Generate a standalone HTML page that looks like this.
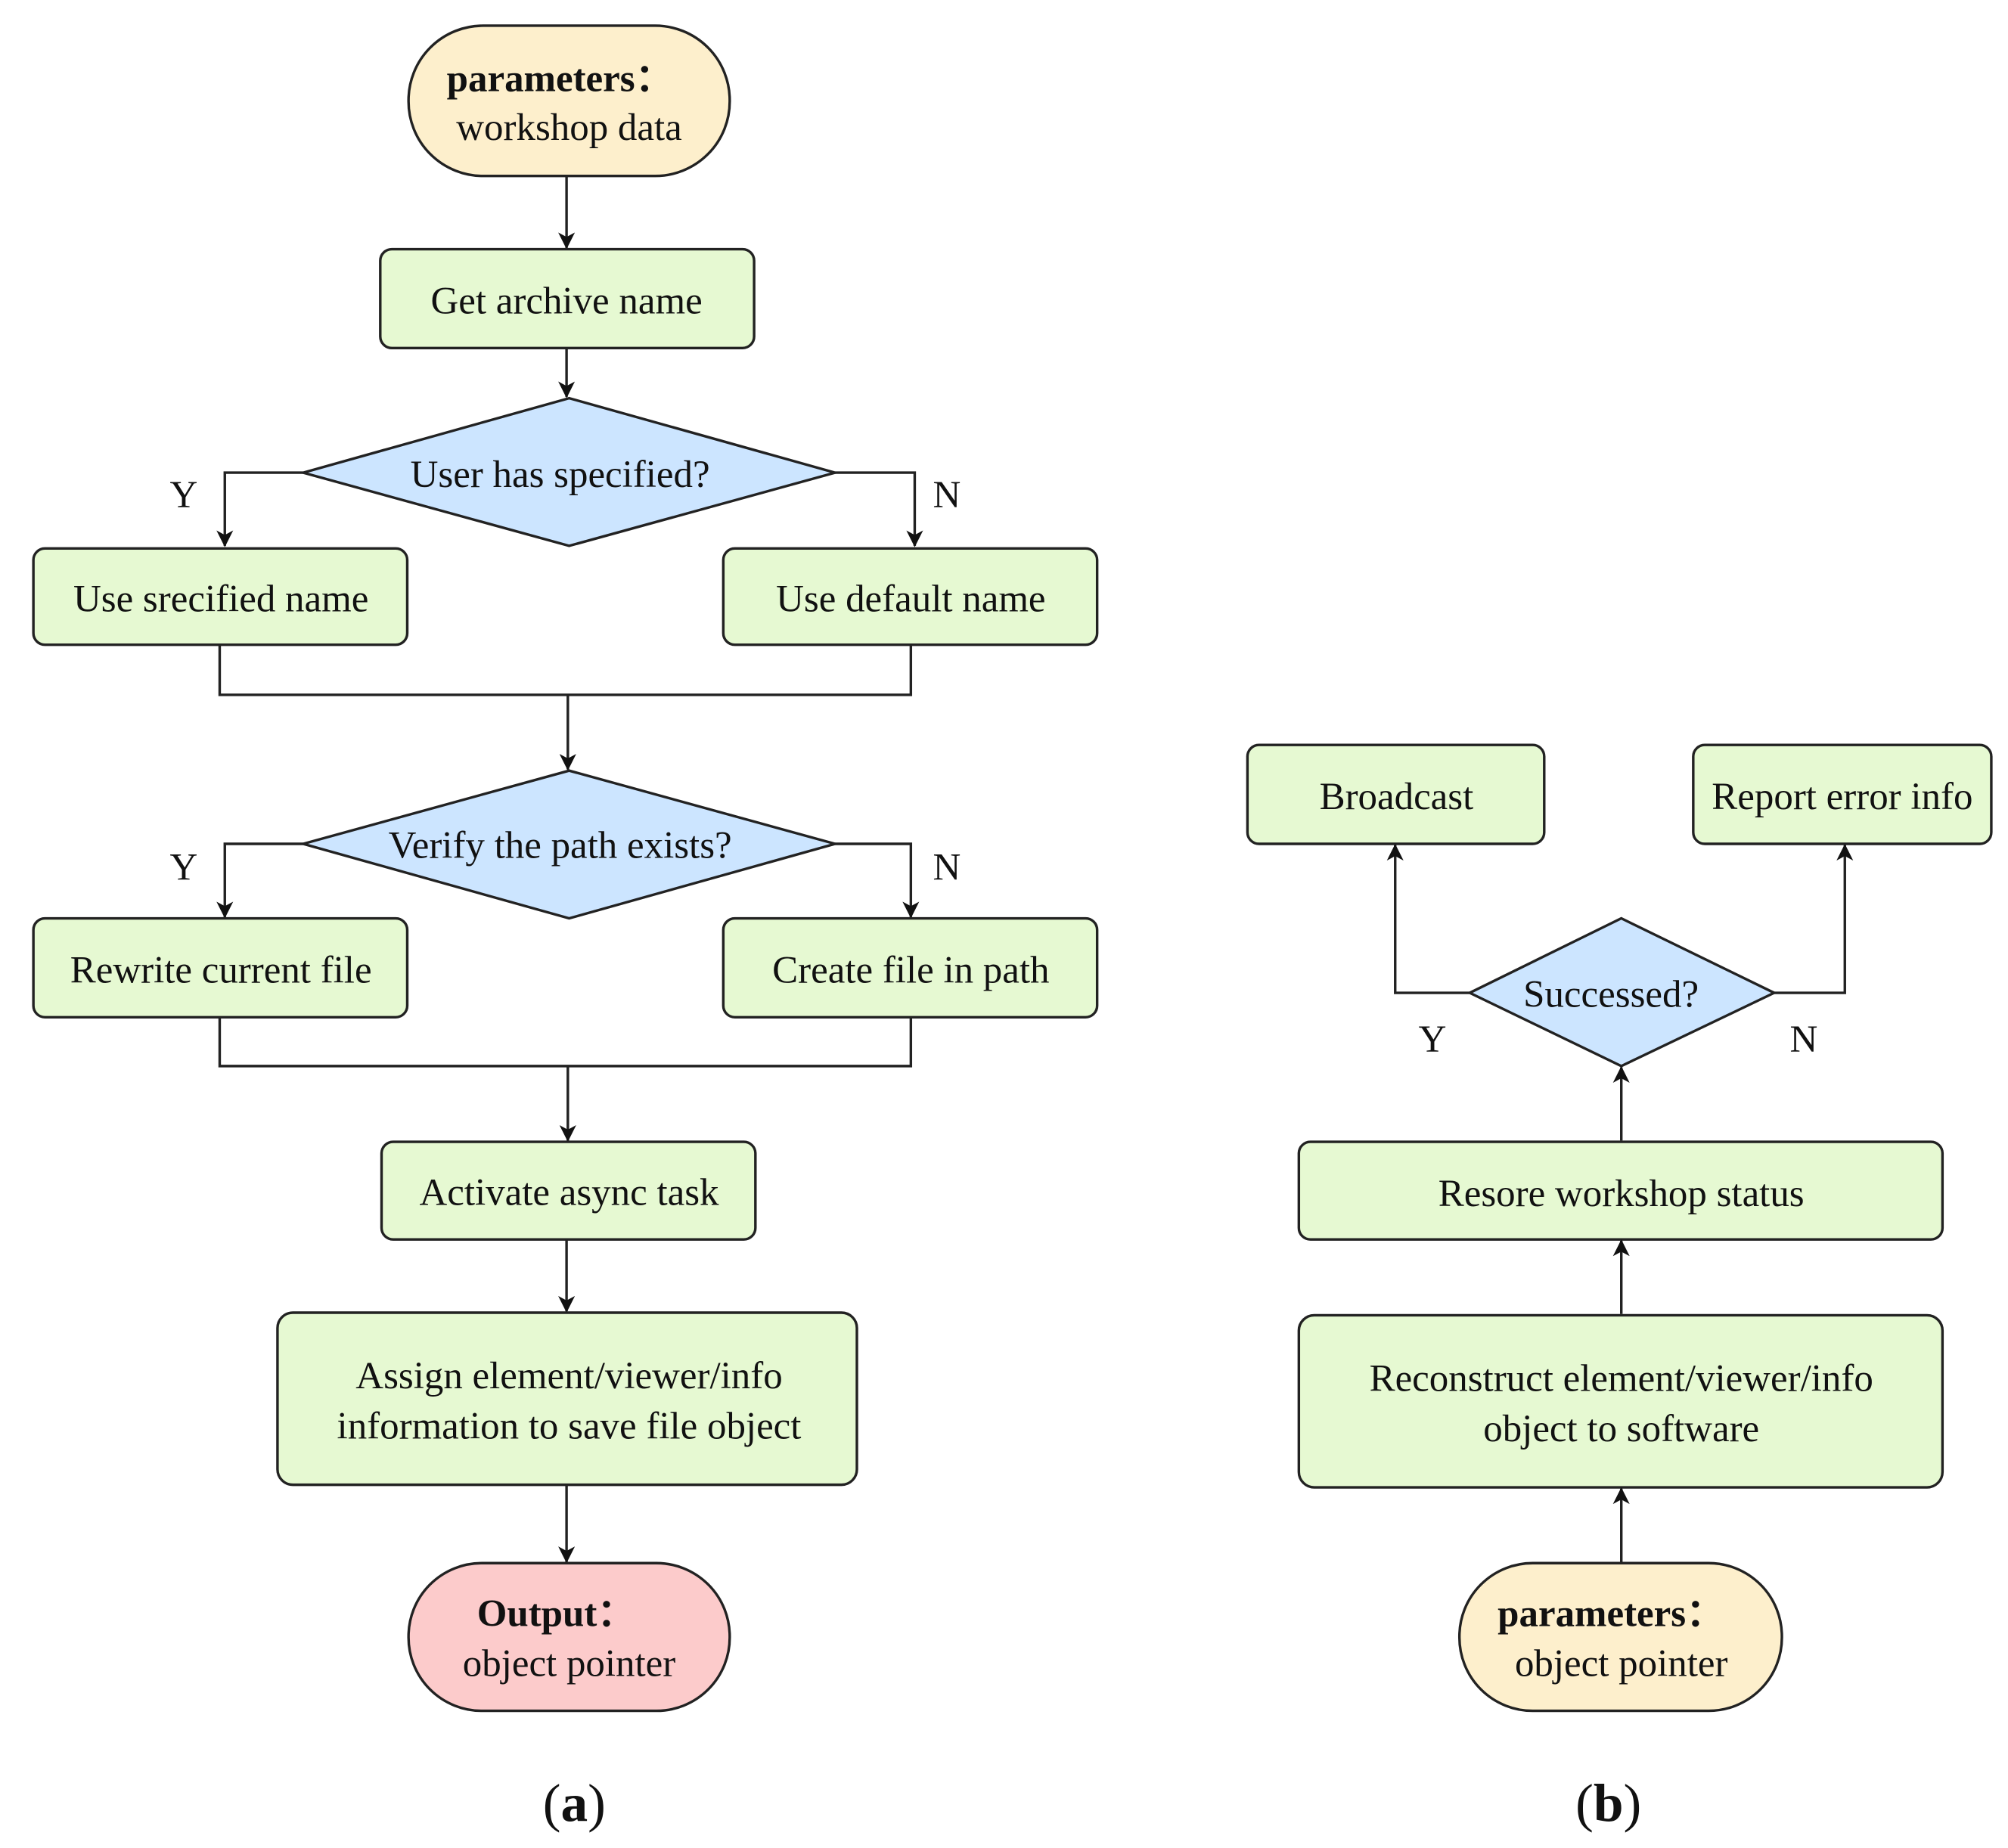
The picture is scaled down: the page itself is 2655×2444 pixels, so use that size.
<!DOCTYPE html>
<html><head><meta charset="utf-8"><style>
html,body{margin:0;padding:0;background:#fff;}
svg{display:block;}
text{font-family:"Liberation Serif",serif;font-size:30px;fill:#111;}
.b{font-weight:bold;}
</style></head><body>
<svg width="2655" height="2444" viewBox="0 0 1563 1438.8" preserveAspectRatio="none" xmlns="http://www.w3.org/2000/svg">
<defs><marker id="ar" markerWidth="13" markerHeight="13" refX="12" refY="6.5" orient="auto" markerUnits="userSpaceOnUse"><path d="M0,0 L13,6.5 L0,13 L3.5,6.5 Z" fill="#111"/></marker></defs>
<g stroke="#222" stroke-width="2" fill="none">
<rect x="318" y="20" width="250" height="117" rx="58" fill="#fdefcc"/>
<line x1="441" y1="137" x2="441" y2="193" marker-end="url(#ar)"/>
<rect x="296" y="194" width="291" height="77" rx="9" fill="#e6f9d2"/>
<line x1="441" y1="271" x2="441" y2="309" marker-end="url(#ar)"/>
<polygon points="236,368 443,310 650,368 443,425" fill="#cce5ff"/>
<polyline points="236,368 175,368 175,425" marker-end="url(#ar)"/>
<polyline points="650,368 712,368 712,425" marker-end="url(#ar)"/>
<rect x="26" y="427" width="291" height="75" rx="9" fill="#e6f9d2"/>
<rect x="563" y="427" width="291" height="75" rx="9" fill="#e6f9d2"/>
<polyline points="171,502 171,541 709,541 709,502"/>
<line x1="442" y1="541" x2="442" y2="599" marker-end="url(#ar)"/>
<polygon points="236,657 443,600 650,657 443,715" fill="#cce5ff"/>
<polyline points="236,657 175,657 175,714" marker-end="url(#ar)"/>
<polyline points="650,657 709,657 709,714" marker-end="url(#ar)"/>
<rect x="26" y="715" width="291" height="77" rx="9" fill="#e6f9d2"/>
<rect x="563" y="715" width="291" height="77" rx="9" fill="#e6f9d2"/>
<polyline points="171,792 171,830 709,830 709,792"/>
<line x1="442" y1="830" x2="442" y2="888" marker-end="url(#ar)"/>
<rect x="297" y="889" width="291" height="76" rx="9" fill="#e6f9d2"/>
<line x1="441" y1="965" x2="441" y2="1021" marker-end="url(#ar)"/>
<rect x="216" y="1022" width="451" height="134" rx="12" fill="#e6f9d2"/>
<line x1="441" y1="1156" x2="441" y2="1216" marker-end="url(#ar)"/>
<rect x="318" y="1217" width="250" height="115" rx="57" fill="#fccbcb"/>
<rect x="971" y="580" width="231" height="77" rx="9" fill="#e6f9d2"/>
<rect x="1318" y="580" width="232" height="77" rx="9" fill="#e6f9d2"/>
<polygon points="1144,773 1262,715 1381,773 1262,830" fill="#cce5ff"/>
<polyline points="1144,773 1086,773 1086,658" marker-end="url(#ar)"/>
<polyline points="1381,773 1436,773 1436,658" marker-end="url(#ar)"/>
<line x1="1262" y1="888" x2="1262" y2="831" marker-end="url(#ar)"/>
<rect x="1011" y="889" width="501" height="76" rx="9" fill="#e6f9d2"/>
<line x1="1262" y1="1023" x2="1262" y2="966" marker-end="url(#ar)"/>
<rect x="1011" y="1024" width="501" height="134" rx="12" fill="#e6f9d2"/>
<line x1="1262" y1="1216" x2="1262" y2="1159" marker-end="url(#ar)"/>
<rect x="1136" y="1217" width="251" height="115" rx="57" fill="#fdefcc"/>
</g>
<g text-anchor="middle">
<text x="436" y="71" class="b">parameters：</text>
<text x="443" y="109">workshop data</text>
<text x="441" y="244">Get archive name</text>
<text x="436" y="379">User has specified?</text>
<text x="143" y="395">Y</text>
<text x="737" y="395">N</text>
<text x="172" y="476">Use srecified name</text>
<text x="709" y="476">Use default name</text>
<text x="436" y="668">Verify the path exists?</text>
<text x="143" y="685">Y</text>
<text x="737" y="685">N</text>
<text x="172" y="765">Rewrite current file</text>
<text x="709" y="765">Create file in path</text>
<text x="443" y="938">Activate async task</text>
<text x="443" y="1081">Assign element/viewer/info</text>
<text x="443" y="1120">information to save file object</text>
<text x="433" y="1266" class="b">Output：</text>
<text x="443" y="1305">object pointer</text>
<text x="447" y="1418" style="font-size:42px">(<tspan class="b">a</tspan>)</text>
<text x="1087" y="630">Broadcast</text>
<text x="1434" y="630">Report error info</text>
<text x="1254" y="784">Successed?</text>
<text x="1115" y="819">Y</text>
<text x="1404" y="819">N</text>
<text x="1262" y="939">Resore workshop status</text>
<text x="1262" y="1083">Reconstruct element/viewer/info</text>
<text x="1262" y="1122">object to software</text>
<text x="1254" y="1266" class="b">parameters：</text>
<text x="1262" y="1305">object pointer</text>
<text x="1252" y="1418" style="font-size:42px">(<tspan class="b">b</tspan>)</text>
</g>
</svg>
</body></html>
